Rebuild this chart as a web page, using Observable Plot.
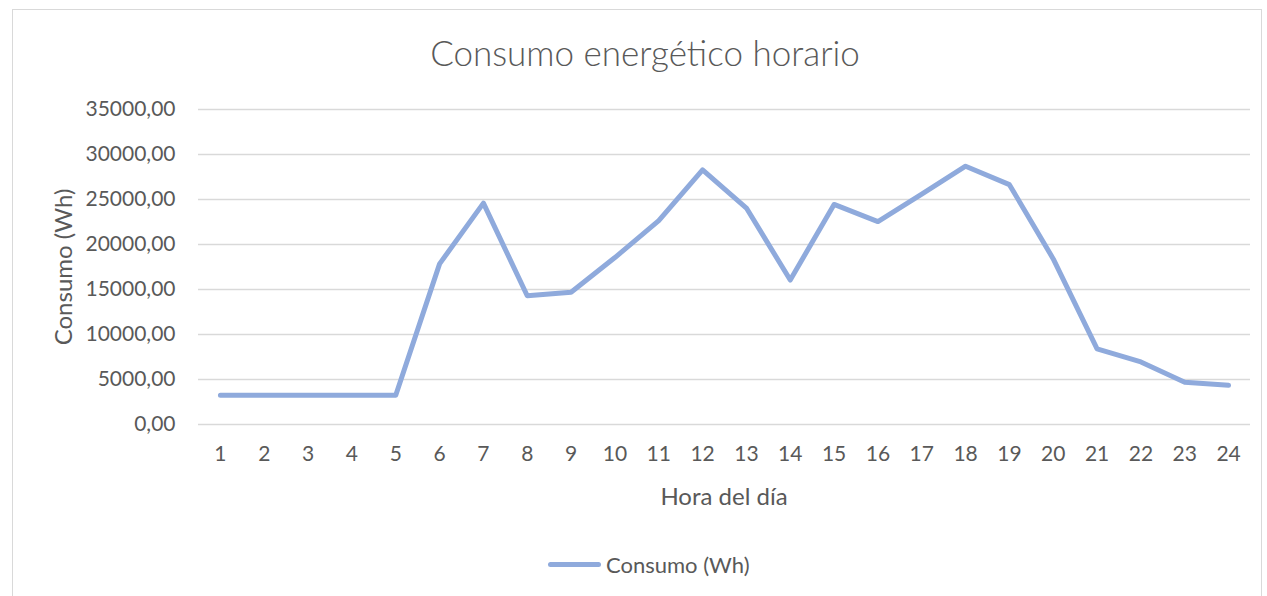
<!DOCTYPE html>
<html>
<head>
<meta charset="utf-8">
<script src="https://cdn.jsdelivr.net/npm/d3@7"></script>
<script src="https://cdn.jsdelivr.net/npm/@observablehq/plot@0.6"></script>
<style>
  html, body { margin: 0; padding: 0; background: #fff; }
  body { width: 1267px; height: 596px; overflow: hidden; position: relative; font-family: Lato, "Open Sans", sans-serif; color: #595959; }
  #frame { position: absolute; left: 12px; top: 9px; width: 1250px; height: 600px; border: 1px solid #d9d9d9; box-sizing: border-box; }
  #title { position: absolute; left: 0; width: 1290px; top: 31px; text-align: center; font-size: 35px; font-weight: 300; color: #595959; }
  #chart { position: absolute; left: 0; top: 0; }
  #ylabel { position: absolute; left: 62px; top: 267px; transform: translate(-50%, -50%) rotate(-90deg); font-size: 24px; white-space: nowrap; }
  #xlabel { position: absolute; left: 724px; top: 495px; transform: translate(-50%, -50%); font-size: 24px; white-space: nowrap; }
  #legend { position: absolute; left: 548px; top: 551px; display: flex; align-items: center; font-size: 22px; }
  #legend .sw { width: 53px; height: 5px; border-radius: 3px; background: #8faadc; margin-right: 5px; }
</style>
</head>
<body>
<div id="frame"></div>
<div id="title">Consumo energético horario</div>
<div id="chart"></div>
<div id="ylabel">Consumo (Wh)</div>
<div id="xlabel">Hora del día</div>
<div id="legend"><div class="sw"></div><span>Consumo (Wh)</span></div>
<script>
const hours = [1,2,3,4,5,6,7,8,9,10,11,12,13,14,15,16,17,18,19,20,21,22,23,24];
const consumo = [3250,3250,3250,3250,3250,17850,24600,14300,14700,18550,22650,28300,24050,16050,24450,22550,25600,28700,26650,18400,8400,6950,4700,4350];
const yTicks = [0,5000,10000,15000,20000,25000,30000,35000];
const seriesName = "Consumo (Wh)";

const data = hours.map((h, i) => ({hora: h, valor: consumo[i]}));
const fmt = v => d3.format(".2f")(v).replace(".", ",");

const chart = Plot.plot({
  width: 1267,
  height: 596,
  marginTop: 109,
  marginBottom: 172,
  marginLeft: 198,
  marginRight: 17,
  style: { fontFamily: "Lato, 'Open Sans', sans-serif", fontSize: "21px", color: "#595959", background: "transparent" },
  x: { type: "point", domain: hours, padding: 0.5, round: false, label: null },
  y: { domain: [0, 35000], label: null },
  marks: [
    Plot.gridY(yTicks, { stroke: "#d9d9d9", strokeOpacity: 1, strokeWidth: 1.5 }),
    Plot.axisY(yTicks, { tickSize: 0, tickPadding: 23, tickFormat: fmt, label: null, fill: "#595959" }),
    Plot.axisX(hours, { tickSize: 0, tickPadding: 22, label: null, fill: "#595959" }),
    Plot.line(data, { x: "hora", y: "valor", stroke: "#8faadc", strokeWidth: 5, strokeLinecap: "round", strokeLinejoin: "round" })
  ]
});
document.getElementById("chart").appendChild(chart);
</script>
</body>
</html>
